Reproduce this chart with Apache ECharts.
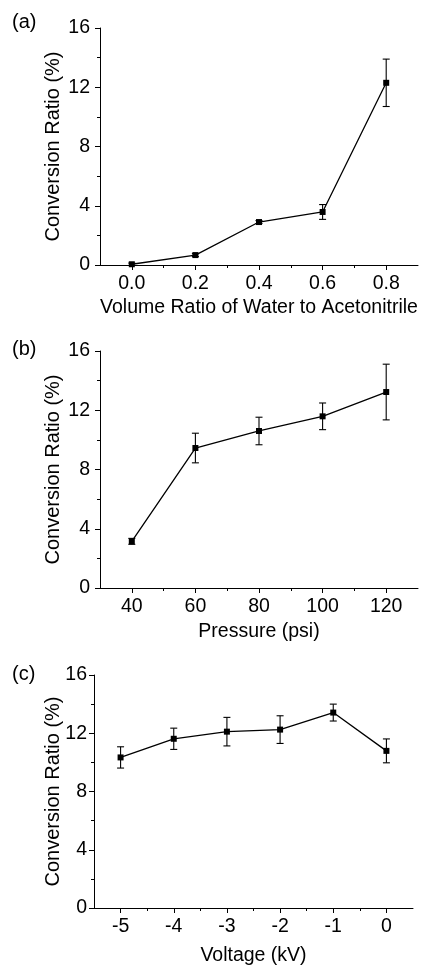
<!DOCTYPE html>
<html><head><meta charset="utf-8">
<script src="https://cdn.jsdelivr.net/npm/echarts@6/dist/echarts.min.js"></script>
<style>html,body{margin:0;padding:0;background:#fff}#c{width:422px;height:967px}</style>
</head><body><div id="c"></div>
<script>
// Panel (a)
const xA = [0.0, 0.2, 0.4, 0.6, 0.8];
const yA = [0.05, 0.67, 2.9, 3.58, 12.3];
const eA = [0.08, 0.1, 0.1, 0.5, 1.6];
const ticksA = [0.0, 0.2, 0.4, 0.6, 0.8];
const minorA = [0.1, 0.3, 0.5, 0.7];
// Panel (b)
const xB = [40, 60, 80, 100, 120];
const yB = [3.15, 9.45, 10.6, 11.59, 13.23];
const eB = [0.2, 1.0, 0.93, 0.9, 1.88];
const ticksB = [40, 60, 80, 100, 120];
const minorB = [50, 70, 90, 110];
// Panel (c)
const xC = [-5, -4, -3, -2, -1, 0];
const yC = [10.34, 11.62, 12.11, 12.25, 13.42, 10.79];
const eC = [0.73, 0.73, 0.98, 0.95, 0.58, 0.82];
const ticksC = [-5, -4, -3, -2, -1, 0];
const minorC = [-4.5, -3.5, -2.5, -1.5, -0.5];
const yTicks = [0, 4, 8, 12, 16];

const FONT = 'Liberation Sans, Arial, sans-serif';
const chart = echarts.init(document.getElementById('c'));

function grid(l, t, w, h) { return {left: l, top: t, width: w, height: h}; }
function xMain(gi, min, max, ticks, fmt, name, gap) {
  return {type: 'value', gridIndex: gi, min: min, max: max, position: 'bottom',
    axisLine: {show: true, onZero: false, lineStyle: {color: '#000', width: 1}},
    axisTick: {show: true, length: 5, customValues: ticks, lineStyle: {color: '#000'}},
    axisLabel: {customValues: ticks, formatter: fmt, color: '#000', fontSize: 19.5, fontFamily: FONT, margin: 9},
    splitLine: {show: false},
    name: name, nameLocation: 'middle', nameGap: gap, nameMoveOverlap: false,
    nameTextStyle: {color: '#000', fontSize: 19.5, fontFamily: FONT}};
}
function xMinor(gi, min, max, ticks) {
  return {type: 'value', gridIndex: gi, min: min, max: max, position: 'bottom',
    axisLine: {show: false, onZero: false},
    axisTick: {show: true, length: 3, customValues: ticks, lineStyle: {color: '#000'}},
    axisLabel: {show: false}, splitLine: {show: false}};
}
function yAx(gi, margin, gap) {
  return {type: 'value', gridIndex: gi, min: 0, max: 16, interval: 4, position: 'left',
    axisLine: {show: true, onZero: false, lineStyle: {color: '#000', width: 1}},
    axisTick: {show: true, length: 5, lineStyle: {color: '#000'}},
    minorTick: {show: true, splitNumber: 2, length: 3, lineStyle: {color: '#000'}},
    axisLabel: {color: '#000', fontSize: 19.5, fontFamily: FONT, margin: margin,
      customValues: yTicks},
    splitLine: {show: false},
    name: 'Conversion Ratio (%)', nameLocation: 'middle', nameGap: gap, nameMoveOverlap: false,
    nameTextStyle: {color: '#000', fontSize: 20, fontFamily: FONT}};
}
function lineSeries(xi, yi, xs, ys) {
  return {type: 'line', xAxisIndex: xi, yAxisIndex: yi,
    data: xs.map((x, i) => [x, ys[i]]),
    symbol: 'rect', symbolSize: 6, showSymbol: true,
    lineStyle: {color: '#000', width: 1.3}, itemStyle: {color: '#000'},
    z: 3, animation: false};
}
function errSeries(xi, yi, xs, ys, es) {
  return {type: 'custom', xAxisIndex: xi, yAxisIndex: yi,
    data: xs.map((x, i) => [x, ys[i], es[i]]),
    encode: {x: 0, y: 1},
    renderItem: function (params, api) {
      const x = api.value(0), y = api.value(1), e = api.value(2);
      const top = api.coord([x, y + e]);
      const bot = api.coord([x, y - e]);
      const hw = 3.5;
      const st = {stroke: '#000', lineWidth: 1.1};
      return {type: 'group', children: [
        {type: 'line', shape: {x1: top[0], y1: top[1], x2: bot[0], y2: bot[1]}, style: st},
        {type: 'line', shape: {x1: top[0] - hw, y1: top[1], x2: top[0] + hw, y2: top[1]}, style: st},
        {type: 'line', shape: {x1: bot[0] - hw, y1: bot[1], x2: bot[0] + hw, y2: bot[1]}, style: st}
      ]};
    }, z: 2, animation: false};
}

const labelStyle = {fill: '#000', fontSize: 20, fontFamily: FONT};
chart.setOption({
  backgroundColor: '#fff',
  animation: false,
  grid: [grid(100, 28, 318, 237), grid(100, 351, 318, 237), grid(94, 675, 319, 238)],
  xAxis: [
    xMain(0, -0.1, 0.9, ticksA, v => v.toFixed(1), 'Volume Ratio of Water to Acetonitrile', 33),
    xMinor(0, -0.1, 0.9, minorA),
    xMain(1, 30, 130, ticksB, v => String(v), 'Pressure (psi)', 34),
    xMinor(1, 30, 130, minorB),
    xMain(2, -5.5, 0.5, ticksC, v => String(v), 'Voltage (kV)', 38),
    xMinor(2, -5.5, 0.5, minorC)
  ],
  yAxis: [yAx(0, 10, 37), yAx(1, 10, 37), yAx(2, 7, 31)],
  series: [
    errSeries(0, 0, xA, yA, eA), lineSeries(0, 0, xA, yA),
    errSeries(2, 1, xB, yB, eB), lineSeries(2, 1, xB, yB),
    errSeries(4, 2, xC, yC, eC), lineSeries(4, 2, xC, yC)
  ],
  graphic: [
    {type: 'text', left: 12, top: 12, style: Object.assign({text: '(a)'}, labelStyle)},
    {type: 'text', left: 12, top: 339, style: Object.assign({text: '(b)'}, labelStyle)},
    {type: 'text', left: 12, top: 664, style: Object.assign({text: '(c)'}, labelStyle)}
  ]
});
</script></body></html>
